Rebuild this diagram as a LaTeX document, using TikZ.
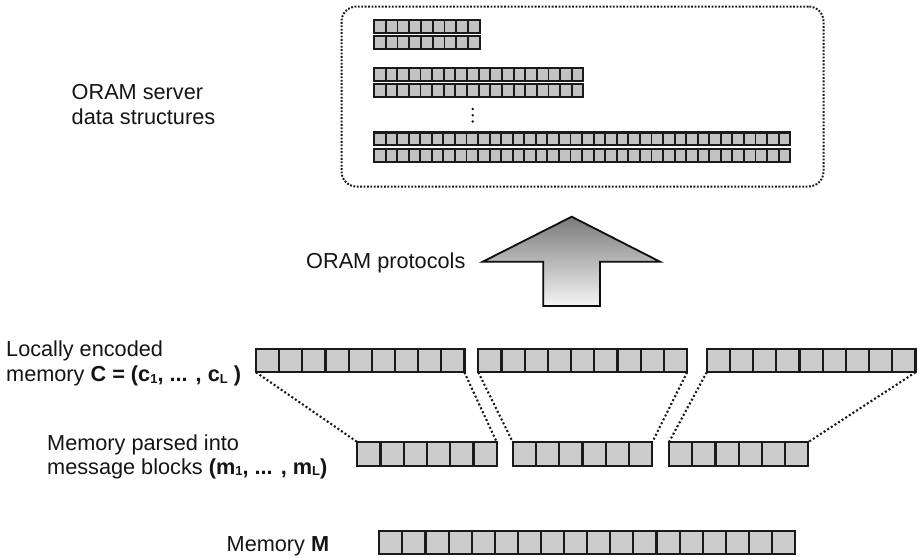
\documentclass[tikz,border=0pt]{standalone}
\usepackage{fontspec}
\setmainfont{Liberation Sans}
\newcommand\sbs[1]{\raisebox{-1.5pt}{\fontsize{13}{13}\selectfont #1}}
\newcommand\drawcells[7]{% name, x, y, n, cellw, h, style
  \node[#7, minimum width=#4*#5, minimum height=#6, anchor=north west] (#1) at (#2,#3) {};
  \pgfmathtruncatemacro\nlast{#4-1}
  \foreach \k in {1,...,\nlast} {\draw[#7 div] (#2+\k*#5,#3) -- (#2+\k*#5,#3+#6);}
}
\definecolor{cellfill}{HTML}{CCCCCC}
\definecolor{celledge}{HTML}{1A1A1A}
\tikzset{
  big/.style={draw=celledge, fill=cellfill, line width=2.3pt, inner sep=0pt, outer sep=0pt},
  big div/.style={draw=celledge, line width=2.1pt},
  small/.style={draw=celledge, fill=cellfill!95!black, line width=2.1pt, inner sep=0pt, outer sep=0pt},
  small div/.style={draw=celledge, line width=1.9pt},
  lbl/.style={font=\fontsize{21.7}{25}\selectfont, inner sep=0pt, anchor=base west, text=black!92},
  dotline/.style={line width=2.1pt, dash pattern=on 2pt off 2.3pt, draw=black!90},
}
\begin{document}
\begin{tikzpicture}[x=1pt,y=-1pt]
\useasboundingbox (0,0) rectangle (917,557);
% server box
\node[draw=black!90, line width=2pt, dash pattern=on 1.8pt off 1.6pt, rounded corners=15pt,
  minimum width=482, minimum height=180, anchor=north west, inner sep=0pt] (server) at (340.5,5.5) {};
\drawcells{s1}{374}{20}{9}{11.75}{12.8}{small}
\drawcells{s2}{374}{35.8}{9}{11.75}{12.8}{small}
\drawcells{s3}{374}{67.8}{18}{11.63}{12.8}{small}
\drawcells{s4}{374}{84.4}{18}{11.63}{12.8}{small}
\drawcells{s5}{374}{132.5}{36}{11.56}{12.8}{small}
\drawcells{s6}{374}{149.2}{36}{11.56}{12.8}{small}
\foreach \yy/\nm in {109/d1,115.2/d2,121.5/d3}
  \fill[black!90] (472.7,\yy) circle (1.4pt);
% labels
\node[lbl] (srvA) at (71.5,99.3) {ORAM server};
\node[lbl] (srvB) at (71.5,124) {data structures};
\node[lbl] (proto) at (306,268) {ORAM protocols};
\node[lbl] (locA) at (6,356.7) {Locally encoded};
\node[lbl] (locB) at (6,381.7) {memory \textbf{C = (c\sbs{1}, ... , c\sbs{L} )}};
\node[lbl] (parA) at (47,450) {Memory parsed into};
\node[lbl] (parB) at (47,474) {message blocks \textbf{(m\sbs{1}, ... , m\sbs{L})}};
\node[lbl] (memM) at (226.5,551.7) {Memory \textbf{M}};
% arrow
\draw[line width=1.8pt, line join=miter, draw=black!95, top color=black!52, bottom color=black!4]
  (571.7,216.7) -- (660,261.7) -- (600,261.7) -- (600,306) -- (543.3,306)
  -- (543.3,261.7) -- (482.7,261.7) -- cycle;
% encoded memory C
\drawcells{c1}{256}{348.8}{9}{23.15}{23.5}{big}
\drawcells{c2}{478.3}{348.8}{9}{23.2}{23.5}{big}
\drawcells{c3}{706.7}{348.8}{9}{23.2}{23.5}{big}
% message blocks
\drawcells{m1}{357.3}{442}{6}{23.23}{24}{big}
\drawcells{m2}{512.7}{442}{6}{23.27}{24}{big}
\drawcells{m3}{669}{442}{6}{23.22}{24}{big}
% memory M
\drawcells{mm}{379.3}{531}{18}{23.1}{23.3}{big}
% dotted connectors
\draw[dotline] (c1.south west) -- (m1.north west);
\draw[dotline] (c1.south east) -- (m1.north east);
\draw[dotline] (c2.south west) -- (m2.north west);
\draw[dotline] (c2.south east) -- (m2.north east);
\draw[dotline] (c3.south west) -- (m3.north west);
\draw[dotline] (c3.south east) -- (m3.north east);
\end{tikzpicture}
\end{document}
